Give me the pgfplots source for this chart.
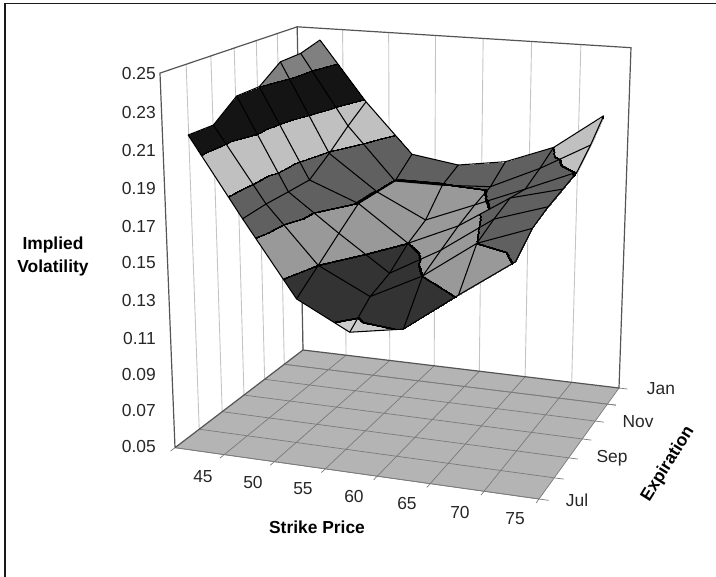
\documentclass[border=0pt]{standalone}
\usepackage{pgfplots}
\usepackage{pgfplotstable}
\usepackage{fontspec}
\setmainfont{Liberation Sans}
\pgfplotsset{compat=1.18}
\definecolor{wallline}{HTML}{C4C4C4}
\definecolor{boxline}{HTML}{555555}
\definecolor{floorfill}{HTML}{B4B4B4}
\definecolor{floorline}{HTML}{7A7A7A}
\definecolor{bA}{HTML}{CCCCCC}
\definecolor{bB}{HTML}{333333}
\definecolor{bC}{HTML}{999999}
\definecolor{bD}{HTML}{606060}
\definecolor{bE}{HTML}{C0C0C0}
\definecolor{bF}{HTML}{141414}
\definecolor{bG}{HTML}{808080}
% strike, month index (0 = Jul ... 6 = Jan), implied volatility
\pgfplotstableread{
strike month iv
45 6 .2431
50 6 .2085
55 6 .1794
60 6 .1753
65 6 .1796
70 6 .1903
75 6 .2107
45 5 .2395
50 5 .1995
55 5 .1696
60 5 .1696
65 5 .1712
70 5 .1841
75 5 .1996
45 4 .2390
50 4 .1893
55 4 .1696
60 4 .1561
65 4 .1673
70 4 .1787
75 4 .1905
45 3 .2298
50 3 .1803
55 3 .1696
60 3 .1500
65 3 .1624
70 3 .1803
75 3 .1876
45 2 .2296
50 2 .1801
55 2 .1600
60 2 .1409
65 2 .1564
70 2 .1757
75 2 .1848
45 1 .2194
50 1 .1801
55 1 .1500
60 1 .1362
65 1 .1502
70 1 .1701
75 1 .1805
45 0 .2197
50 0 .1791
55 0 .1401
60 0 .1257
65 0 .1306
70 0 .1513
75 0 .1710
}\surfacedata
\begin{document}
\begin{tikzpicture}[x=1pt,y=1pt]
\path[use as bounding box] (0,0) rectangle (716,577);
\begin{axis}[
  at={(0,0)},anchor=south west,
  scale only axis,width=716pt,height=577pt,
  xmin=0,xmax=716,ymin=0,ymax=577,y dir=reverse,
  axis lines=none,clip=false,
  declare function={
    DN(\u,\v,\t)=1-.06241*\u+.1677*\v-.06*\t;
    PX(\u,\v,\t)=(175+330.36*\u+178.81*\v-24.6*\t)/DN(\u,\v,\t);
    PY(\u,\v,\t)=(447.7+20.16*\u-39*\v-379*\t)/DN(\u,\v,\t);
  },
  point meta min=.05,point meta max=.25,
  colormap={bands}{
    color(5cm)=(bA) color(12.96cm)=(bA) color(12.97cm)=(black) color(13.03cm)=(black) color(13.04cm)=(bB)
    color(14.96cm)=(bB) color(14.97cm)=(black) color(15.03cm)=(black) color(15.04cm)=(bC)
    color(16.96cm)=(bC) color(16.97cm)=(black) color(17.03cm)=(black) color(17.04cm)=(bD)
    color(18.96cm)=(bD) color(18.97cm)=(black) color(19.03cm)=(black) color(19.04cm)=(bE)
    color(20.96cm)=(bE) color(20.97cm)=(black) color(21.03cm)=(black) color(21.04cm)=(bF)
    color(22.96cm)=(bF) color(22.97cm)=(black) color(23.03cm)=(black) color(23.04cm)=(bG)
    color(25cm)=(bG)
  },
]
% chart frame
\addplot[black!90,line width=1.4pt] coordinates {(5,577) (5,3.5) (716,3.5)};
% floor
\addplot[fill=floorfill,draw=none] table[row sep=\\,x expr={PX(\thisrow{u},\thisrow{v},0)},y expr={PY(\thisrow{u},\thisrow{v},0)}]{
u v\\ 0 0\\ 1 0\\ 1 1\\ 0 1\\ 0 0\\
};
% wall grid and floor grid
\pgfplotsinvokeforeach{1,...,6}{
  \addplot[floorline,line width=.7pt] table[row sep=\\,x expr={PX(\thisrow{u}/7,\thisrow{v},0)},y expr={PY(\thisrow{u}/7,\thisrow{v},0)}]{
u v\\ #1 -.03\\ #1 1\\
};
  \addplot[wallline,line width=.9pt] table[row sep=\\,x expr={PX(#1/7,1,\thisrow{t})},y expr={PY(#1/7,1,\thisrow{t})}]{
t\\ 0\\ 1\\
};
  \addplot[wallline,line width=.9pt] table[row sep=\\,x expr={PX(0,#1/6,\thisrow{t})},y expr={PY(0,#1/6,\thisrow{t})}]{
t\\ 0\\ 1\\
};
  \addplot[floorline,line width=.7pt] table[row sep=\\,x expr={PX(\thisrow{u},(#1-1)/6,0)},y expr={PY(\thisrow{u},(#1-1)/6,0)}]{
u\\ 0\\ 1.025\\
};
}
\addplot[floorline,line width=.7pt] table[row sep=\\,x expr={PX(\thisrow{u},5/6,0)},y expr={PY(\thisrow{u},5/6,0)}]{
u\\ 0\\ 1.025\\
};
% front and side edges of the floor
\addplot[floorline,line width=.7pt] table[row sep=\\,x expr={PX(\thisrow{u},\thisrow{v},0)},y expr={PY(\thisrow{u},\thisrow{v},0)}]{
u v\\ 0 -.03\\ 0 0\\ 1 0\\ 1 -.03\\
};
\addplot[floorline,line width=.7pt] table[row sep=\\,x expr={PX(\thisrow{u},\thisrow{v},0)},y expr={PY(\thisrow{u},\thisrow{v},0)}]{
u v\\ 1 0\\ 1 1\\ 1.025 1\\
};
% walls outline
\addplot[boxline,line width=1.2pt] table[row sep=\\,x expr={PX(\thisrow{u},\thisrow{v},\thisrow{t})},y expr={PY(\thisrow{u},\thisrow{v},\thisrow{t})}]{
u v t\\ 0 0 0\\ 0 0 1\\ 0 1 1\\ 1 1 1\\ 1 1 0\\ 0 1 0\\ 0 0 0\\
};
\addplot[boxline,line width=1.2pt] table[row sep=\\,x expr={PX(\thisrow{u},\thisrow{v},\thisrow{t})},y expr={PY(\thisrow{u},\thisrow{v},\thisrow{t})}]{
u v t\\ 0 1 0\\ 0 1 1\\
};
% surface
\addplot[surf,shader=interp,mesh/rows=7,mesh/cols=7,point meta={\thisrow{iv}}]
 table[x expr={PX((\thisrow{strike}-42.5)/35,\thisrow{month}/6,(\thisrow{iv}-.05)/.2)},
       y expr={PY((\thisrow{strike}-42.5)/35,\thisrow{month}/6,(\thisrow{iv}-.05)/.2)}]{\surfacedata};
% grid lines of the surface, one line per strike and one per month
\pgfplotsinvokeforeach{45,50,55,60,65,70,75}{
\addplot[black,line width=1.05pt,line join=round]
 table[x expr={\thisrow{strike}==#1 ? PX((\thisrow{strike}-42.5)/35,\thisrow{month}/6,(\thisrow{iv}-.05)/.2) : nan},
       y expr={PY((\thisrow{strike}-42.5)/35,\thisrow{month}/6,(\thisrow{iv}-.05)/.2)}]{\surfacedata};
}
\pgfplotsinvokeforeach{0,...,6}{
\addplot[black,line width=1.05pt,line join=round]
 table[x expr={\thisrow{month}==#1 ? PX((\thisrow{strike}-42.5)/35,\thisrow{month}/6,(\thisrow{iv}-.05)/.2) : nan},
       y expr={PY((\thisrow{strike}-42.5)/35,\thisrow{month}/6,(\thisrow{iv}-.05)/.2)}]{\surfacedata};
}
% labels
\def\lab{\fontsize{17.4}{20}\selectfont}
\foreach \v/\y in {0.25/74,0.23/113,0.21/151,0.19/189,0.17/227,0.15/263,0.13/301,0.11/339,0.09/375,0.07/411,0.05/447}{
  \edef\temp{\noexpand\node[anchor=east,inner sep=0pt,font=\noexpand\lab,text=black!85] at (axis cs:156,\y) {\v};}\temp
}
\foreach \v/\x/\y in {45/203/477,50/253/483,55/303/489,60/354/497,65/407/504,70/460/513,75/515/519,Jul/577/500,Sep/612/458,Nov/638/422,Jan/661/389}{
  \edef\temp{\noexpand\node[inner sep=0pt,font=\noexpand\lab,text=black!85] at (axis cs:\x,\y) {\v};}\temp
}
\node[inner sep=0pt,font=\lab\bfseries] at (axis cs:317,527) {Strike Price};
\node[inner sep=0pt,font=\lab\bfseries] at (axis cs:53,245) {Implied};
\node[inner sep=0pt,font=\lab\bfseries] at (axis cs:53,268) {Volatility};
\node[inner sep=0pt,font=\lab\bfseries,rotate=58] at (axis cs:668,464) {Expiration};
\end{axis}
\end{tikzpicture}
\end{document}
